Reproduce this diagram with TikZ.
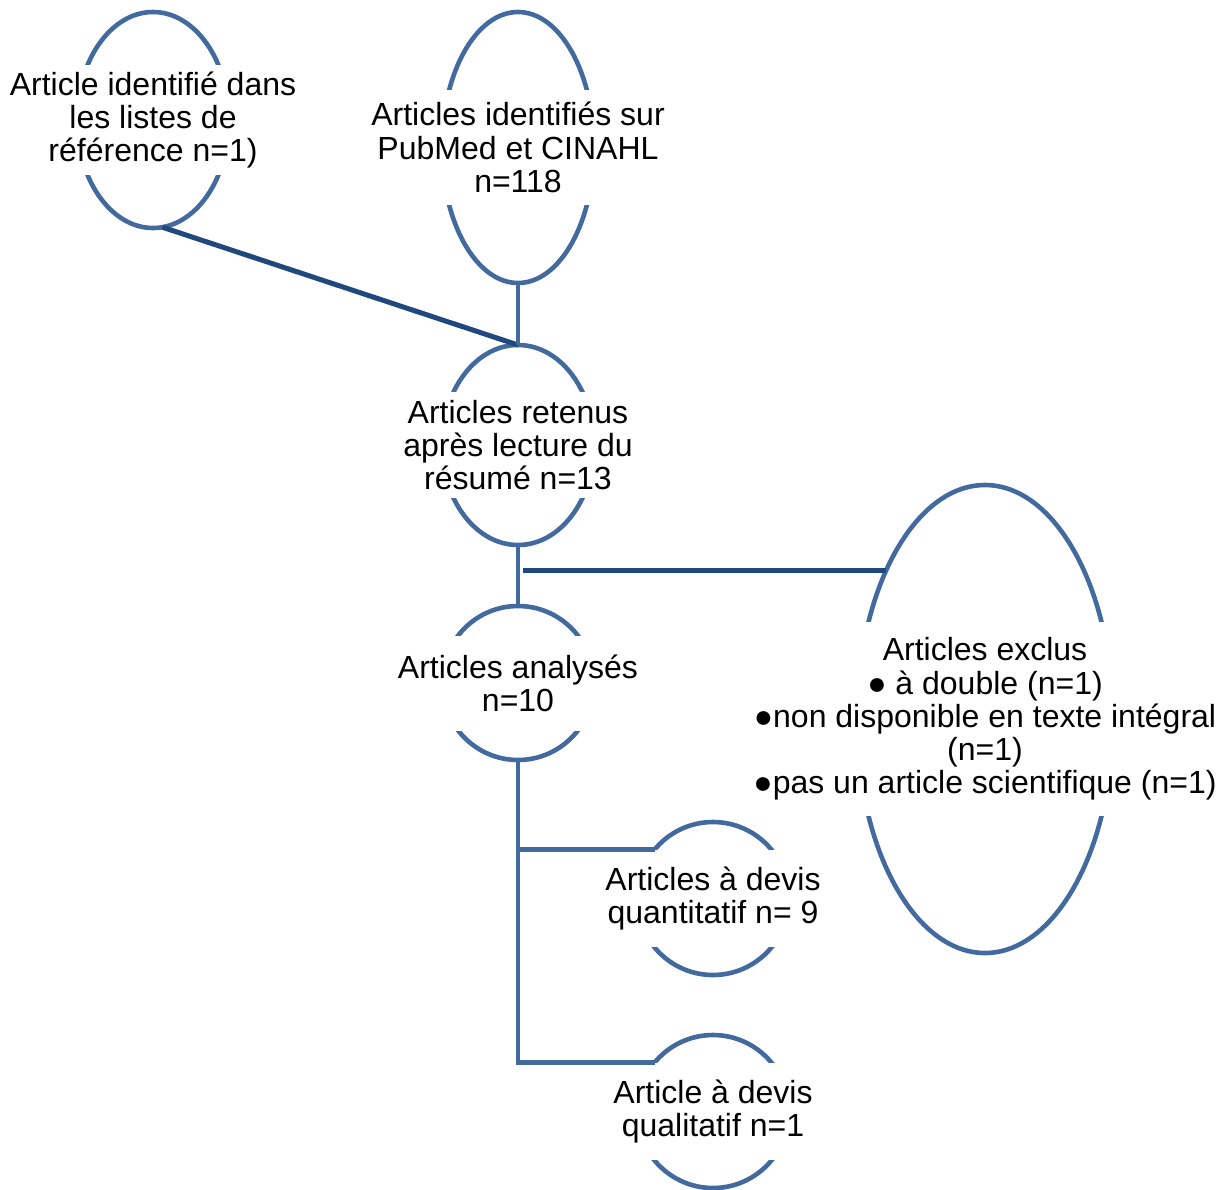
\documentclass[tikz,border=0pt]{standalone}
\usepackage{fontspec}
\setmainfont{Liberation Sans}
\usetikzlibrary{shapes.geometric}
\definecolor{outline}{RGB}{66,106,158}
\definecolor{navy}{RGB}{31,73,125}

\begin{document}
\begin{tikzpicture}[x=0.5pt,y=-0.5pt,
    bubble/.style={ellipse,draw=outline,line width=2.3pt,inner sep=0pt,outer sep=0pt,minimum width=76pt},
    txt/.style={fill=white,align=center,inner xsep=2pt,inner ysep=0pt,font=\fontsize{16}{16.6}\selectfont},
    link/.style={draw=outline,line width=2.3pt},
    sideline/.style={draw=navy,line width=2.5pt}]
    \useasboundingbox (0,0) rectangle (1229,1189);

    \node[bubble,minimum height=108pt] (ref) at (153,120) {};
    \node[txt,minimum height=55pt] at (ref) {Article identifié dans\\les listes de\\référence n=1)};
    \node[bubble,minimum height=135.5pt] (pub) at (518,147.5) {};
    \node[txt,minimum height=57.5pt] at (pub) {Articles identifiés sur\\PubMed et CINAHL\\n=118};
    \node[bubble,minimum height=100pt] (kept) at (518,445) {};
    \node[txt,minimum height=53pt] at (kept) {Articles retenus\\après lecture du\\résumé n=13};
    \node[bubble,minimum height=77pt] (read) at (518,683) {};
    \node[txt,minimum height=47.5pt] at (read) {Articles analysés\\n=10};
    \node[bubble,minimum width=128pt,minimum height=234pt] (out) at (985,719) {};
    \node[txt,minimum height=97pt] at (out) {Articles exclus\\● à double (n=1)\\●non disponible en texte intégral\\(n=1)\\●pas un article scientifique (n=1)};
    \node[bubble,minimum height=76.5pt] (quant) at (713,898.5) {};
    \node[txt,minimum height=48.5pt] at (quant) {Articles à devis\\quantitatif n= 9};
    \node[bubble,minimum height=76.5pt] (qual) at (713,1111.5) {};
    \node[txt,minimum height=48.5pt] at (qual) {Article à devis\\qualitatif n=1};

    \draw[sideline] (ref.-85) -- (kept.north);
    \draw[link] (pub.south) -- (kept.north);
    \draw[link] (kept.south) -- (read.north);
    \coordinate (split) at (523,570);
    \draw[sideline] (split) -- (split -| out.124);
    \draw[link] (read.south) |- (qual.140);
    \draw[link] (read.south |- quant.140) -- (quant.140);
\end{tikzpicture}
\end{document}
